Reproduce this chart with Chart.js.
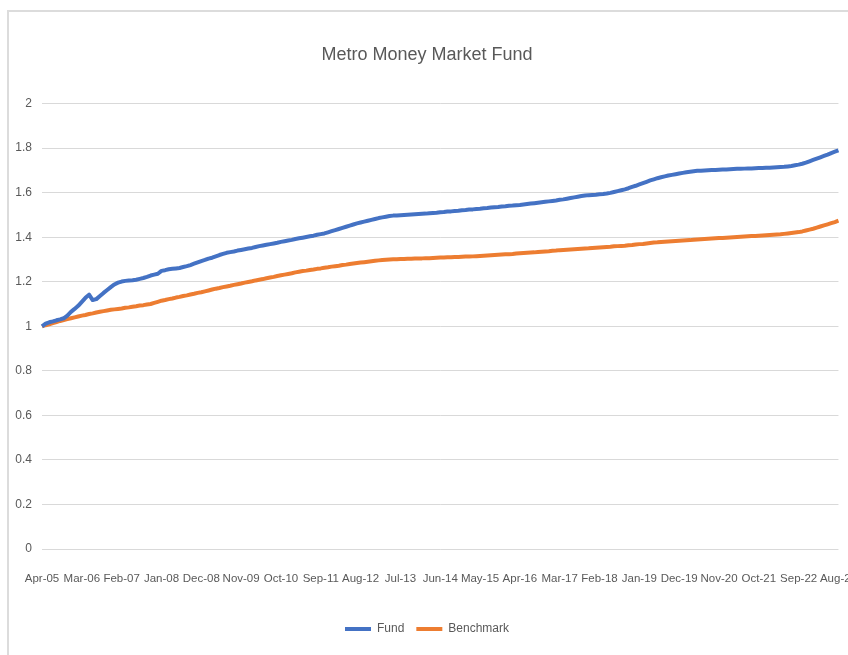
<!DOCTYPE html>
<html>
<head>
<meta charset="utf-8">
<title>Metro Money Market Fund</title>
<script src="https://cdn.jsdelivr.net/npm/chart.js@4.4.0/dist/chart.umd.min.js"></script>
<style>
  html, body { margin: 0; padding: 0; background: #fff; overflow: hidden; }
  #frame { position: absolute; left: 7px; top: 10px; width: 900px; height: 700px;
           border-left: 2px solid #dcdcdc; border-top: 2px solid #dcdcdc; }
  #wrap { position: absolute; left: 0; top: 0; width: 858px; height: 655px; }
</style>
</head>
<body>
<div id="frame"></div>
<div id="wrap"><canvas id="fund-chart"></canvas></div>
<script>
// monthly, Apr-05 .. Aug-23 (one row = Apr..Mar)
const monthNames = ['Jan', 'Feb', 'Mar', 'Apr', 'May', 'Jun', 'Jul', 'Aug', 'Sep', 'Oct', 'Nov', 'Dec'];
const startYear = 2005, startMonth = 3, monthCount = 221;
const tickEvery = 11;

const fund = [
  1.000, 1.012, 1.018, 1.022, 1.027, 1.031, 1.036, 1.048, 1.065, 1.078, 1.092, 1.110,
  1.128, 1.142, 1.118, 1.122, 1.136, 1.150, 1.163, 1.176, 1.188, 1.196, 1.201, 1.204,
  1.206, 1.207, 1.209, 1.213, 1.217, 1.222, 1.228, 1.232, 1.236, 1.249, 1.252, 1.256,
  1.258, 1.260, 1.262, 1.266, 1.270, 1.275, 1.281, 1.287, 1.293, 1.298, 1.304, 1.308,
  1.314, 1.320, 1.325, 1.330, 1.333, 1.336, 1.340, 1.343, 1.346, 1.349, 1.352, 1.356,
  1.360, 1.363, 1.366, 1.369, 1.372, 1.375, 1.379, 1.382, 1.385, 1.388, 1.392, 1.395,
  1.398, 1.401, 1.404, 1.407, 1.411, 1.414, 1.417, 1.422, 1.427, 1.432, 1.437, 1.442,
  1.447, 1.452, 1.457, 1.462, 1.466, 1.470, 1.474, 1.478, 1.482, 1.486, 1.489, 1.492,
  1.495, 1.497, 1.498, 1.499, 1.500, 1.501, 1.502, 1.503, 1.504, 1.505, 1.506, 1.508,
  1.509, 1.510, 1.512, 1.513, 1.515, 1.516, 1.518, 1.519, 1.521, 1.522, 1.524, 1.525,
  1.527, 1.528, 1.530, 1.531, 1.533, 1.535, 1.536, 1.538, 1.539, 1.541, 1.542, 1.544,
  1.545, 1.547, 1.549, 1.551, 1.553, 1.555, 1.557, 1.559, 1.561, 1.563, 1.565, 1.568,
  1.570, 1.573, 1.576, 1.579, 1.582, 1.585, 1.587, 1.589, 1.590, 1.591, 1.593, 1.594,
  1.596, 1.599, 1.603, 1.607, 1.611, 1.615, 1.620, 1.626, 1.631, 1.637, 1.643, 1.649,
  1.655, 1.660, 1.665, 1.669, 1.673, 1.677, 1.680, 1.683, 1.686, 1.689, 1.692, 1.694,
  1.696, 1.698, 1.699, 1.700, 1.701, 1.702, 1.702, 1.703, 1.704, 1.704, 1.705, 1.706,
  1.707, 1.707, 1.708, 1.709, 1.709, 1.710, 1.711, 1.711, 1.712, 1.712, 1.713, 1.714,
  1.715, 1.716, 1.718, 1.720, 1.723, 1.726, 1.730, 1.735, 1.741, 1.747, 1.753, 1.759,
  1.765, 1.771, 1.778, 1.784, 1.790
];

const benchmark = [
  1.000, 1.005, 1.009, 1.014, 1.019, 1.024, 1.028, 1.032, 1.036, 1.040, 1.044, 1.048,
  1.051, 1.055, 1.058, 1.062, 1.065, 1.068, 1.071, 1.074, 1.076, 1.078, 1.080, 1.083,
  1.085, 1.088, 1.090, 1.093, 1.095, 1.098, 1.100, 1.105, 1.110, 1.115, 1.118, 1.122,
  1.125, 1.129, 1.132, 1.136, 1.139, 1.143, 1.146, 1.150, 1.153, 1.157, 1.161, 1.165,
  1.169, 1.172, 1.176, 1.179, 1.182, 1.186, 1.189, 1.192, 1.196, 1.199, 1.202, 1.206,
  1.209, 1.212, 1.216, 1.219, 1.222, 1.226, 1.229, 1.232, 1.235, 1.238, 1.242, 1.245,
  1.248, 1.250, 1.253, 1.255, 1.258, 1.260, 1.263, 1.265, 1.268, 1.270, 1.272, 1.275,
  1.277, 1.280, 1.282, 1.284, 1.286, 1.288, 1.290, 1.292, 1.294, 1.296, 1.298, 1.299,
  1.300, 1.301, 1.301, 1.302, 1.302, 1.303, 1.303, 1.304, 1.305, 1.305, 1.306, 1.306,
  1.307, 1.308, 1.309, 1.309, 1.310, 1.310, 1.311, 1.311, 1.312, 1.313, 1.313, 1.314,
  1.315, 1.316, 1.317, 1.318, 1.319, 1.320, 1.321, 1.322, 1.323, 1.324, 1.325, 1.327,
  1.328, 1.329, 1.330, 1.331, 1.332, 1.334, 1.335, 1.336, 1.337, 1.339, 1.340, 1.342,
  1.343, 1.344, 1.345, 1.346, 1.347, 1.348, 1.349, 1.350, 1.352, 1.353, 1.354, 1.355,
  1.356, 1.357, 1.359, 1.360, 1.361, 1.362, 1.364, 1.365, 1.367, 1.369, 1.370, 1.372,
  1.374, 1.376, 1.377, 1.379, 1.380, 1.381, 1.382, 1.383, 1.384, 1.385, 1.386, 1.387,
  1.389, 1.390, 1.391, 1.392, 1.393, 1.394, 1.395, 1.396, 1.397, 1.398, 1.399, 1.400,
  1.401, 1.402, 1.403, 1.404, 1.405, 1.406, 1.407, 1.408, 1.409, 1.410, 1.411, 1.412,
  1.413, 1.415, 1.417, 1.419, 1.421, 1.423, 1.426, 1.430, 1.434, 1.438, 1.443, 1.448,
  1.453, 1.458, 1.463, 1.468, 1.474
];

const months = [];
for (let i = 0; i < monthCount; i++) {
  const m = startMonth + i;
  const yy = String((startYear + Math.floor(m / 12)) % 100).padStart(2, '0');
  months.push(monthNames[m % 12] + '-' + yy);
}

const font = "'Liberation Sans', Arial, sans-serif";
const textColor = '#595959';

const chart = new Chart(document.getElementById('fund-chart'), {
  type: 'line',
  data: {
    labels: months,
    datasets: [
      {
        label: 'Fund',
        data: fund,
        borderColor: '#4472c4',
        backgroundColor: '#4472c4',
        borderWidth: 4,
        pointRadius: 0,
        borderJoinStyle: 'round',
        borderCapStyle: 'butt'
      },
      {
        label: 'Benchmark',
        data: benchmark,
        borderColor: '#ed7d31',
        backgroundColor: '#ed7d31',
        borderWidth: 4,
        pointRadius: 0,
        borderJoinStyle: 'round',
        borderCapStyle: 'butt'
      }
    ]
  },
  options: {
    responsive: true,
    maintainAspectRatio: false,
    animation: false,
    layout: { padding: { left: 0, right: 4, top: 0, bottom: 10 } },
    plugins: {
      title: {
        display: true,
        text: 'Metro Money Market Fund',
        color: textColor,
        font: { family: font, size: 18, weight: 'normal' },
        padding: { top: 44, bottom: 38 }
      },
      legend: {
        position: 'bottom',
        labels: {
          color: textColor,
          font: { family: font, size: 12 },
          usePointStyle: true,
          pointStyle: 'line',
          pointStyleWidth: 26,
          padding: 12
        }
      },
      tooltip: { enabled: false }
    },
    scales: {
      x: {
        offset: false,
        // tick marks are hidden with the grid; tickLength only pushes the labels down
        grid: { display: false, drawTicks: true, tickLength: 22 },
        border: { display: false },
        ticks: {
          color: textColor,
          font: { family: font, size: 11.5 },
          autoSkip: false,
          maxRotation: 0,
          minRotation: 0,
          padding: 1,
          callback: (v, i) => (i % tickEvery === 0 ? months[i] : '')
        },
        afterFit: (s) => { s.height = 62; }
      },
      y: {
        min: 0,
        max: 2,
        grid: { color: '#d9d9d9', lineWidth: 1, drawTicks: false },
        border: { display: false },
        ticks: {
          stepSize: 0.2,
          color: textColor,
          font: { family: font, size: 12 },
          padding: 10,
          callback: (v) => String(Number(v.toFixed(1)))
        },
        afterFit: (s) => { s.width = 42; }
      }
    }
  }
});
</script>
</body>
</html>
